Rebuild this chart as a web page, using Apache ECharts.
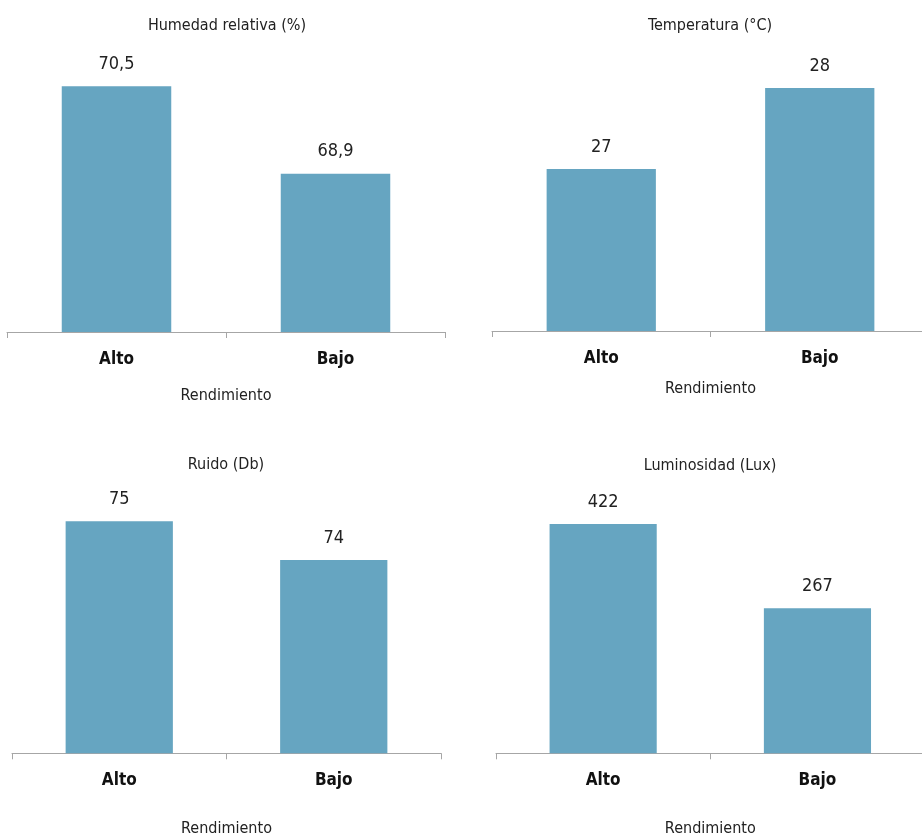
<!DOCTYPE html>
<html>
<head>
<meta charset="utf-8">
<script src="https://cdn.jsdelivr.net/npm/echarts@6/dist/echarts.min.js"></script>
<style>
  html, body { margin: 0; padding: 0; background: #fff; }
  #chart { width: 922px; height: 837px; }
</style>
</head>
<body>
<div id="chart"></div>
<script>
// Environmental conditions by performance group
const categories = ['Alto', 'Bajo'];
const titles = ['Humedad relativa (%)', 'Temperatura (°C)', 'Ruido (Db)', 'Luminosidad (Lux)'];
const humedad = [70.5, 68.9];
const temperatura = [27, 28];
const ruido = [75, 74];
const luminosidad = [422, 267];
const axisName = 'Rendimiento';

const FONT = "'DejaVu Sans Condensed', 'Liberation Sans Narrow', sans-serif";
const BAR = '#66a5c1';

// Panel layout: grid box, value range, title position and axis-name gap
const panels = [
  { data: humedad,     grid: { left: 7,   top: 59,    width: 438,   height: 273 },   min: 66, max: 71,  title: [227, 18],  nameGap: 56 },
  { data: temperatura, grid: { left: 492, top: 88,    width: 437,   height: 243 },   min: 25, max: 28,  title: [710, 18],  nameGap: 50 },
  { data: ruido,       grid: { left: 12,  top: 482.6, width: 429,   height: 270.7 }, min: 69, max: 76,  title: [226, 457], nameGap: 68 },
  { data: luminosidad, grid: { left: 496, top: 481.6, width: 428.6, height: 271.7 }, min: 0,  max: 500, title: [710, 458], nameGap: 68 }
];

const fmt = v => String(v).replace('.', ',');

const option = {
  animation: false,
  title: panels.map((p, i) => ({
    text: titles[i],
    left: p.title[0],
    top: p.title[1],
    padding: 0,
    textAlign: 'center',
    textStyle: { fontFamily: FONT, fontSize: 16, fontWeight: 'normal', color: '#222' }
  })),
  grid: panels.map(p => Object.assign({ containLabel: false, outerBoundsMode: 'none' }, p.grid)),
  xAxis: panels.map((p, i) => ({
    type: 'category',
    gridIndex: i,
    data: categories,
    name: axisName,
    nameLocation: 'middle',
    nameGap: p.nameGap,
    nameTextStyle: { fontFamily: FONT, fontSize: 16, color: '#222' },
    axisLine: { lineStyle: { color: '#a6a6a6', width: 1 } },
    axisTick: { show: true, length: 6, lineStyle: { color: '#a6a6a6' } },
    axisLabel: { fontFamily: FONT, fontSize: 17, fontWeight: 'bold', color: '#111', margin: 19 }
  })),
  yAxis: panels.map((p, i) => ({
    type: 'value',
    gridIndex: i,
    min: p.min,
    max: p.max,
    show: false,
    splitLine: { show: false }
  })),
  series: panels.map((p, i) => ({
    type: 'bar',
    xAxisIndex: i,
    yAxisIndex: i,
    data: p.data,
    barWidth: '50%',
    itemStyle: { color: BAR },
    label: {
      show: true,
      position: 'top',
      distance: 13,
      fontFamily: FONT,
      fontSize: 18,
      color: '#222',
      formatter: d => fmt(d.value)
    }
  }))
};

echarts.init(document.getElementById('chart')).setOption(option);
</script>
</body>
</html>
